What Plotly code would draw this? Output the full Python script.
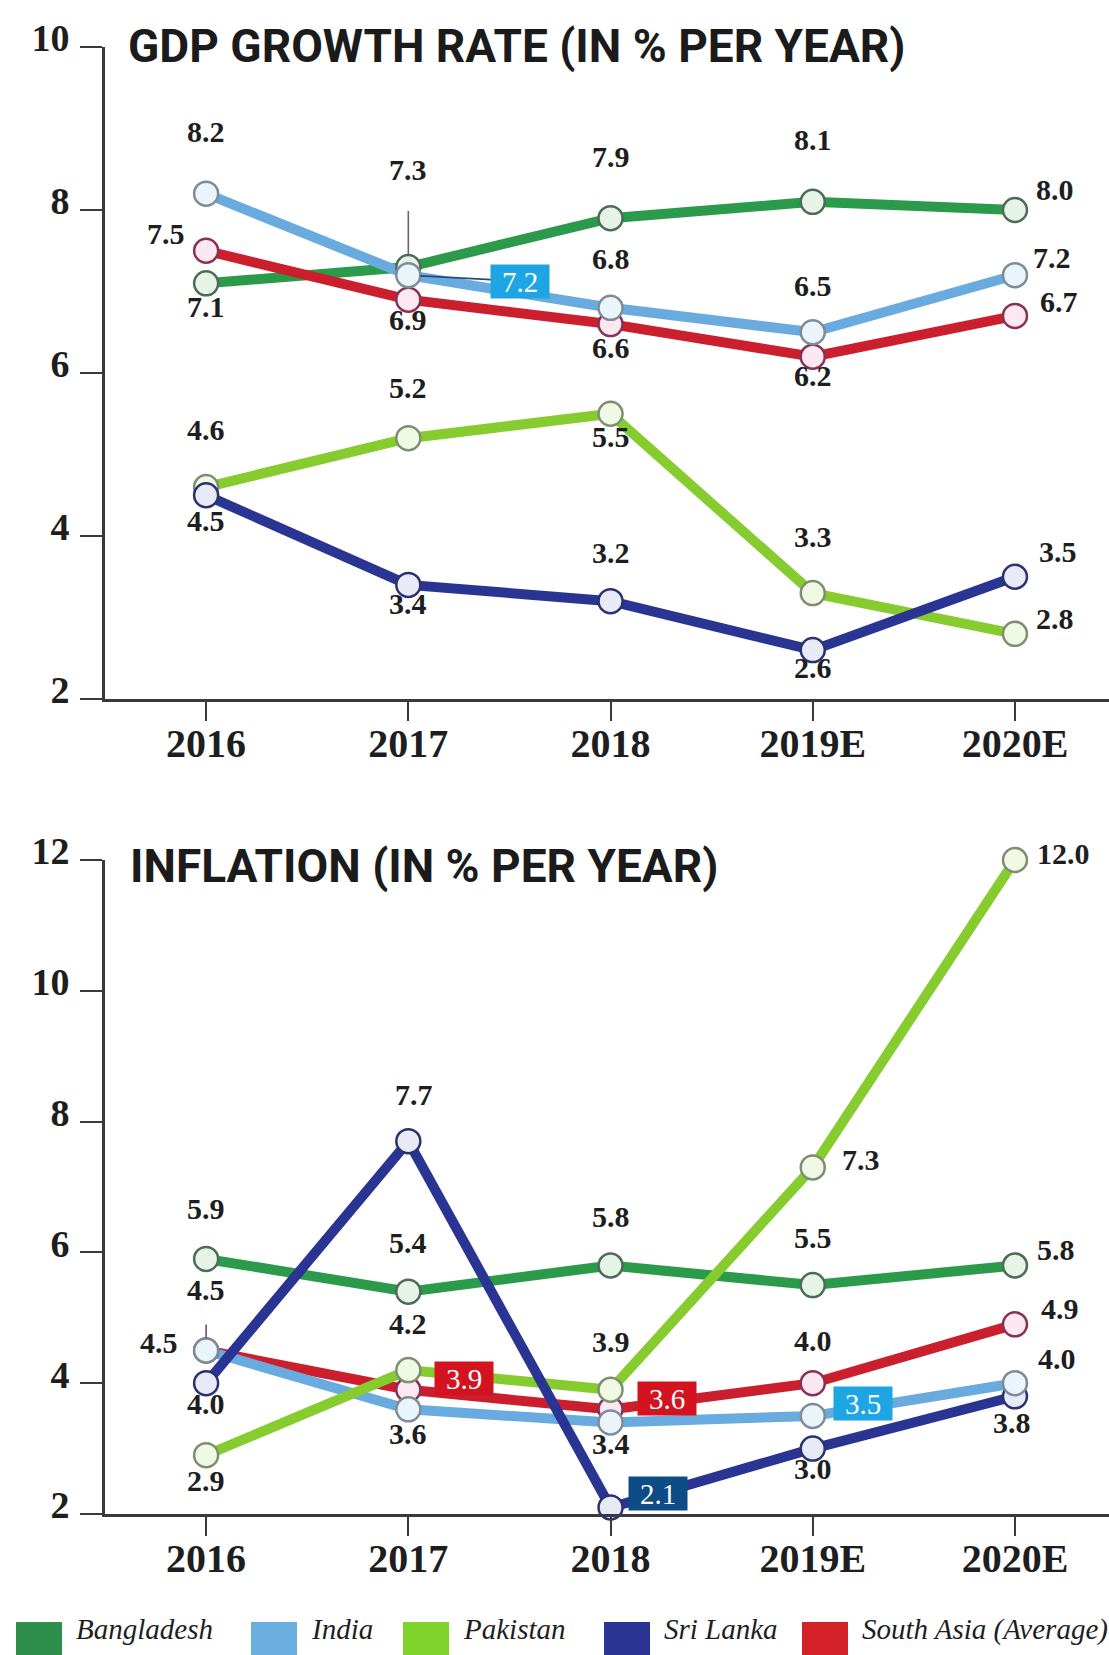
import plotly.graph_objects as go

# ---------------- data ----------------
years = ["2016", "2017", "2018", "2019E", "2020E"]
series_names = ["Bangladesh", "India", "Pakistan", "Sri Lanka", "South Asia (Average)"]

gdp_bangladesh = [7.1, 7.3, 7.9, 8.1, 8.0]
gdp_india = [8.2, 7.2, 6.8, 6.5, 7.2]
gdp_pakistan = [4.6, 5.2, 5.5, 3.3, 2.8]
gdp_sri_lanka = [4.5, 3.4, 3.2, 2.6, 3.5]
gdp_south_asia = [7.5, 6.9, 6.6, 6.2, 6.7]

inf_bangladesh = [5.9, 5.4, 5.8, 5.5, 5.8]
inf_india = [4.5, 3.6, 3.4, 3.5, 4.0]
inf_pakistan = [2.9, 4.2, 3.9, 7.3, 12.0]
inf_sri_lanka = [4.0, 7.7, 2.1, 3.0, 3.8]
inf_south_asia = [4.5, 3.9, 3.6, 4.0, 4.9]

gdp_ticks = [2, 4, 6, 8, 10]
inf_ticks = [2, 4, 6, 8, 10, 12]

gdp_title = "GDP GROWTH RATE (IN % PER YEAR)"
inf_title = "INFLATION (IN % PER YEAR)"

# ---------------- styles ----------------
W, H = 1109, 1655
line_colors = {
    "Bangladesh": "#2b9a4a",
    "India": "#6aabdf",
    "Pakistan": "#86cc2e",
    "Sri Lanka": "#2a3593",
    "South Asia (Average)": "#cc1f2e",
}
legend_colors = {
    "Bangladesh": "#2e8f4c",
    "India": "#6aaee0",
    "Pakistan": "#7fd32a",
    "Sri Lanka": "#2a3593",
    "South Asia (Average)": "#d42027",
}
marker_fill = {
    "Bangladesh": "#e6f4e8",
    "India": "#eaf4fb",
    "Pakistan": "#f0f9e4",
    "Sri Lanka": "#e8eaf6",
    "South Asia (Average)": "#fbe8f0",
}
marker_edge = {
    "Bangladesh": "#4d6b57",
    "India": "#7f8c98",
    "Pakistan": "#7e8e72",
    "Sri Lanka": "#2b3270",
    "South Asia (Average)": "#8a3052",
}

gdp = {"Bangladesh": gdp_bangladesh, "India": gdp_india, "Pakistan": gdp_pakistan,
       "Sri Lanka": gdp_sri_lanka, "South Asia (Average)": gdp_south_asia}
inf = {"Bangladesh": inf_bangladesh, "India": inf_india, "Pakistan": inf_pakistan,
       "Sri Lanka": inf_sri_lanka, "South Asia (Average)": inf_south_asia}

line_order = ["Bangladesh", "South Asia (Average)", "India", "Pakistan", "Sri Lanka"]
marker_order = ["South Asia (Average)", "Bangladesh", "Pakistan", "Sri Lanka", "India"]

# label placement: (dx px, dy px, kind); kind: None, "lead", or box colour
BOX_BLUE = "#1ea5e4"
BOX_RED = "#d3131f"
BOX_NAVY = "#0d4c84"
gdp_place = {
    "Bangladesh": [(0, 23, None), (0, -98, "lead"), (0, -62, None), (0, -62, None), (40, -21, None)],
    "India": [(0, -62, None), (112, 6, ("box", BOX_BLUE)), (0, -49, None), (0, -47, None), (37, -18, None)],
    "Pakistan": [(0, -58, None), (0, -51, None), (0, 23, None), (0, -57, None), (40, -15, None)],
    "Sri Lanka": [(0, 25, None), (0, 19, None), (0, -49, None), (0, 17, None), (43, -25, None)],
    "South Asia (Average)": [(-40, -17, None), (0, 20, None), (0, 23, None), (0, 19, None), (44, -14, None)],
}
inf_place = {
    "Bangladesh": [(0, -50, None), (0, -49, None), (0, -49, None), (0, -48, None), (41, -16, None)],
    "India": [(-47, -8, None), (0, 24, None), (0, 21, None), (50, -12, ("box", BOX_BLUE)), (42, -25, None)],
    "Pakistan": [(0, 25, None), (0, -47, None), (0, -48, None), (48, -8, None), (49, -7, None)],
    "Sri Lanka": [(0, 20, None), (6, -47, None), (47, -14, ("box", BOX_NAVY)), (0, 20, None), (-3, 26, None)],
    "South Asia (Average)": [(0, -61, "lead_short"), (56, -11, ("box", BOX_RED)),
                             (56, -11, ("box", BOX_RED)), (0, -43, None), (45, -16, None)],
}

fig = go.Figure()

axes = [("x", "y", gdp), ("x2", "y2", inf)]
for xa, ya, data in axes:
    for name in line_order:
        fig.add_trace(go.Scatter(
            x=years, y=data[name], xaxis=xa, yaxis=ya, mode="lines",
            line=dict(color=line_colors[name], width=10), showlegend=False,
            cliponaxis=False, hoverinfo="skip", name=name))
    for name in marker_order:
        fig.add_trace(go.Scatter(
            x=years, y=data[name], xaxis=xa, yaxis=ya, mode="markers",
            marker=dict(size=24, color=marker_fill[name],
                        line=dict(color=marker_edge[name], width=2.5)),
            showlegend=False, cliponaxis=False, name=name))

label_font = dict(family="Liberation Serif", size=30, color="#1e1e1e", weight="bold")
annotations = []
for xa, ya, data, place in [("x", "y", gdp, gdp_place), ("x2", "y2", inf, inf_place)]:
    for name in series_names:
        for i, v in enumerate(data[name]):
            dx, dy, kind = place[name][i]
            # category axis: position by category index
            ann = dict(x=i, y=v, xref=xa, yref=ya, text=f"{v:.1f}",
                       showarrow=True, ax=dx, ay=dy, arrowhead=0,
                       arrowwidth=0.1, arrowcolor="rgba(0,0,0,0)",
                       font=label_font)
            if kind == "lead":
                ann.update(arrowwidth=1.6, arrowcolor="#666666", standoff=13, startstandoff=24)
            elif kind == "lead_short":
                ann.update(arrowwidth=1.6, arrowcolor="#7a4a6a", standoff=12, startstandoff=17)
            elif isinstance(kind, tuple):
                ann.update(bgcolor=kind[1], width=56, height=31, borderpad=1,
                           font=dict(family="Liberation Serif", size=29, color="white"),
                           arrowwidth=1.6,
                           arrowcolor="#2a4a7a" if (kind[1] == BOX_BLUE and xa == "x") else "rgba(0,0,0,0)",
                           standoff=12)
            annotations.append(ann)

# titles
title_font = dict(family="Roboto", size=46, color="#1b1b1b", weight="bold")
annotations.append(dict(x=126 / W, y=1 - 46 / H, xref="paper", yref="paper", text=gdp_title,
                        showarrow=False, xanchor="left", yanchor="middle", font=title_font))
annotations.append(dict(x=128 / W, y=1 - 866 / H, xref="paper", yref="paper", text=inf_title,
                        showarrow=False, xanchor="left", yanchor="middle", font=title_font))

# legend (manual, colour swatches + italic names)
legend_x = [16, 251, 403, 604, 802]
shapes = []
for name, lx in zip(series_names, legend_x):
    shapes.append(dict(type="rect", xref="paper", yref="paper",
                       x0=lx / W, x1=(lx + 46) / W, y0=1 - 1622 / H, y1=1 - 1662 / H,
                       fillcolor=legend_colors[name], line=dict(width=0)))
    annotations.append(dict(x=(lx + 58) / W, y=1 - 1629 / H, xref="paper", yref="paper",
                            text=name, showarrow=False, xanchor="left", yanchor="middle",
                            font=dict(family="Liberation Serif", size=29, color="#1e1e1e",
                                      style="italic")))

xdom = [105 / W, 1.0]
xaxis_common = dict(type="category", categoryorder="array", categoryarray=years,
                    range=[-0.5, 4.465], domain=xdom, showgrid=False, zeroline=False,
                    showline=True, linecolor="#3a3a3a", linewidth=3,
                    ticks="outside", ticklen=19, tickwidth=2, tickcolor="#3a3a3a",
                    tickfont=dict(family="Liberation Serif", size=40, color="#1e1e1e", weight="bold"),
                    ticklabelstandoff=-12, automargin=False, fixedrange=True)
yaxis_common = dict(showgrid=False, zeroline=False, showline=True, linecolor="#3a3a3a",
                    linewidth=3, ticks="outside", ticklen=22, tickwidth=2, tickcolor="#3a3a3a",
                    tickfont=dict(family="Liberation Serif", size=38, color="#1e1e1e", weight="bold"),
                    ticklabelshift=-9, ticklabelstandoff=3, automargin=False, fixedrange=True)

fig.update_layout(
    width=W, height=H,
    margin=dict(l=0, r=0, t=0, b=0, autoexpand=False),
    paper_bgcolor="white", plot_bgcolor="white",
    xaxis=dict(xaxis_common, anchor="y"),
    xaxis2=dict(xaxis_common, anchor="y2"),
    yaxis=dict(yaxis_common, anchor="x", range=[2, 10], tickvals=gdp_ticks,
               domain=[1 - 699 / H, 1 - 47 / H]),
    yaxis2=dict(yaxis_common, anchor="x2", range=[2, 12], tickvals=inf_ticks,
                domain=[1 - 1514 / H, 1 - 860 / H]),
    annotations=annotations,
    shapes=shapes,
    showlegend=False,
)

fig.write_html("out.html", config={"displayModeBar": False},
               post_script="document.body.style.margin='0';")
